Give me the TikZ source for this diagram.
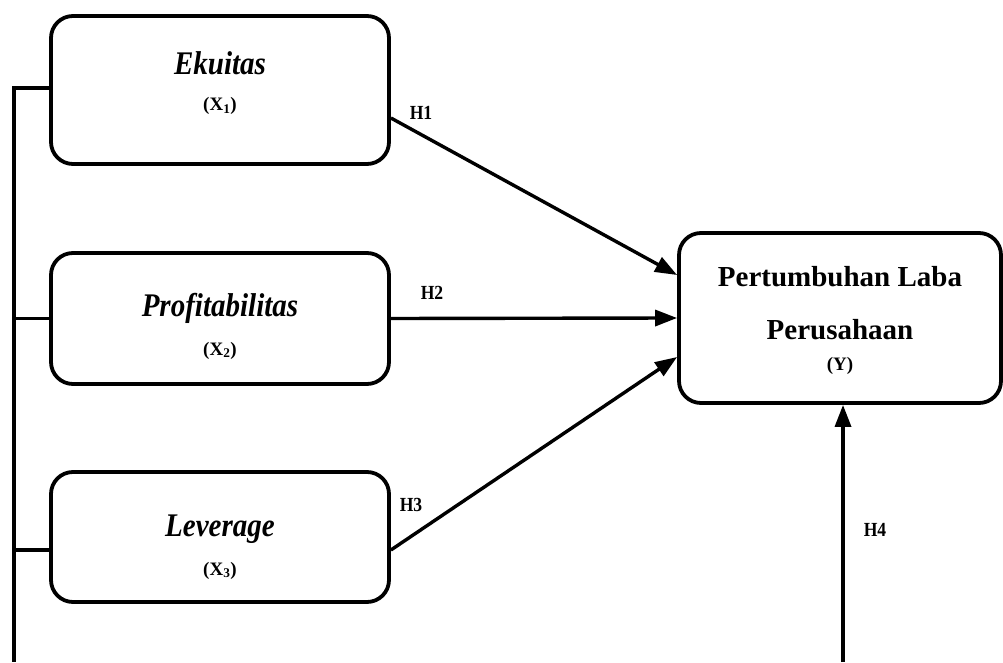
\documentclass[tikz,border=0pt]{standalone}
\usepackage{fontspec}
\setmainfont{Liberation Serif}
\newfontfamily\narrowserif{Liberation Serif}[FakeStretch=0.88]
\usetikzlibrary{arrows.meta, positioning, calc}
\tikzset{
    varbox/.style={rectangle, rounded corners=22pt, draw=black, line width=3.8pt,
                   minimum width=#1, inner sep=0pt},
    vartitle/.style={anchor=base, inner sep=0pt,
                     font=\narrowserif\fontsize{33}{36}\selectfont\bfseries\itshape},
    varcode/.style={anchor=base, inner sep=0pt,
                    font=\fontsize{19}{21}\selectfont\bfseries},
    deptitle/.style={anchor=base, inner sep=0pt,
                     font=\fontsize{29}{32}\selectfont\bfseries},
    arr/.style={line width=3.4pt, -{Triangle[length=22pt, width=16pt]}},
    link/.style={line width=3.4pt},
    hyp/.style={font=\narrowserif\fontsize{20}{22}\selectfont\bfseries},
}

\begin{document}
\begin{tikzpicture}[x=1pt, y=1pt]
    \useasboundingbox (0,0) rectangle (1003,662);

    % Independent variables
    \node[varbox=338pt, minimum height=148pt] (eku) at (220,572) {};
    \node[vartitle] (eku-t) at ($(eku.center)+(0,15)$) {Ekuitas};
    \node[varcode] (eku-x) at ($(eku.center)+(0,-21)$) {(X\textsubscript{1})};

    \node[varbox=338pt, minimum height=131pt] (pro) at (220,343.5) {};
    \node[vartitle] (pro-t) at ($(pro.center)+(0,1.5)$) {Profitabilitas};
    \node[varcode] (pro-x) at ($(pro.center)+(0,-36.5)$) {(X\textsubscript{2})};

    \node[varbox=338pt, minimum height=130pt] (lev) at (220,125) {};
    \node[vartitle] (lev-t) at ($(lev.center)+(0,1)$) {Leverage};
    \node[varcode] (lev-x) at ($(lev.center)+(0,-38)$) {(X\textsubscript{3})};

    % Dependent variable
    \node[varbox=322pt, minimum height=170pt] (perf) at (840,344) {};
    \node[deptitle] (perf-t1) at ($(perf.center)+(0,31)$) {Pertumbuhan Laba};
    \node[deptitle] (perf-t2) at ($(perf.center)+(0,-21)$) {Perusahaan};
    \node[varcode] (perf-y) at ($(perf.center)+(0,-52)$) {(Y)};

    % Left bus line
    \coordinate (bus) at (14,0);
    \coordinate (eku-in) at ($(eku.west)+(0,2)$);
    \coordinate (lev-in) at ($(lev.west)+(0,-13)$);
    \draw[link] (eku-in) -- (eku-in -| bus) -- (bus);
    \draw[link] (pro.west) -- (pro.west -| bus);
    \draw[link] (lev-in) -- (lev-in -| bus);

    % Hypotheses
    \draw[arr] ($(eku.east)+(0,-28)$) -- ($(perf.west)+(0,43)$);
    \draw[arr] (pro.east) -- (perf.west);
    \draw[arr] ($(lev.east)+(0,-13)$) -- ($(perf.west)+(0,-39)$);
    \coordinate (h4start) at ($(perf.south |- bus)+(3,0)$);
    \draw[arr] (h4start) -- (h4start |- perf.south);

    \node[hyp] (h1) at (421,549) {H1};
    \node[hyp] (h2) at (432,369) {H2};
    \node[hyp] (h3) at (411,157) {H3};
    \node[hyp] (h4) at (875,132) {H4};
\end{tikzpicture}
\end{document}
